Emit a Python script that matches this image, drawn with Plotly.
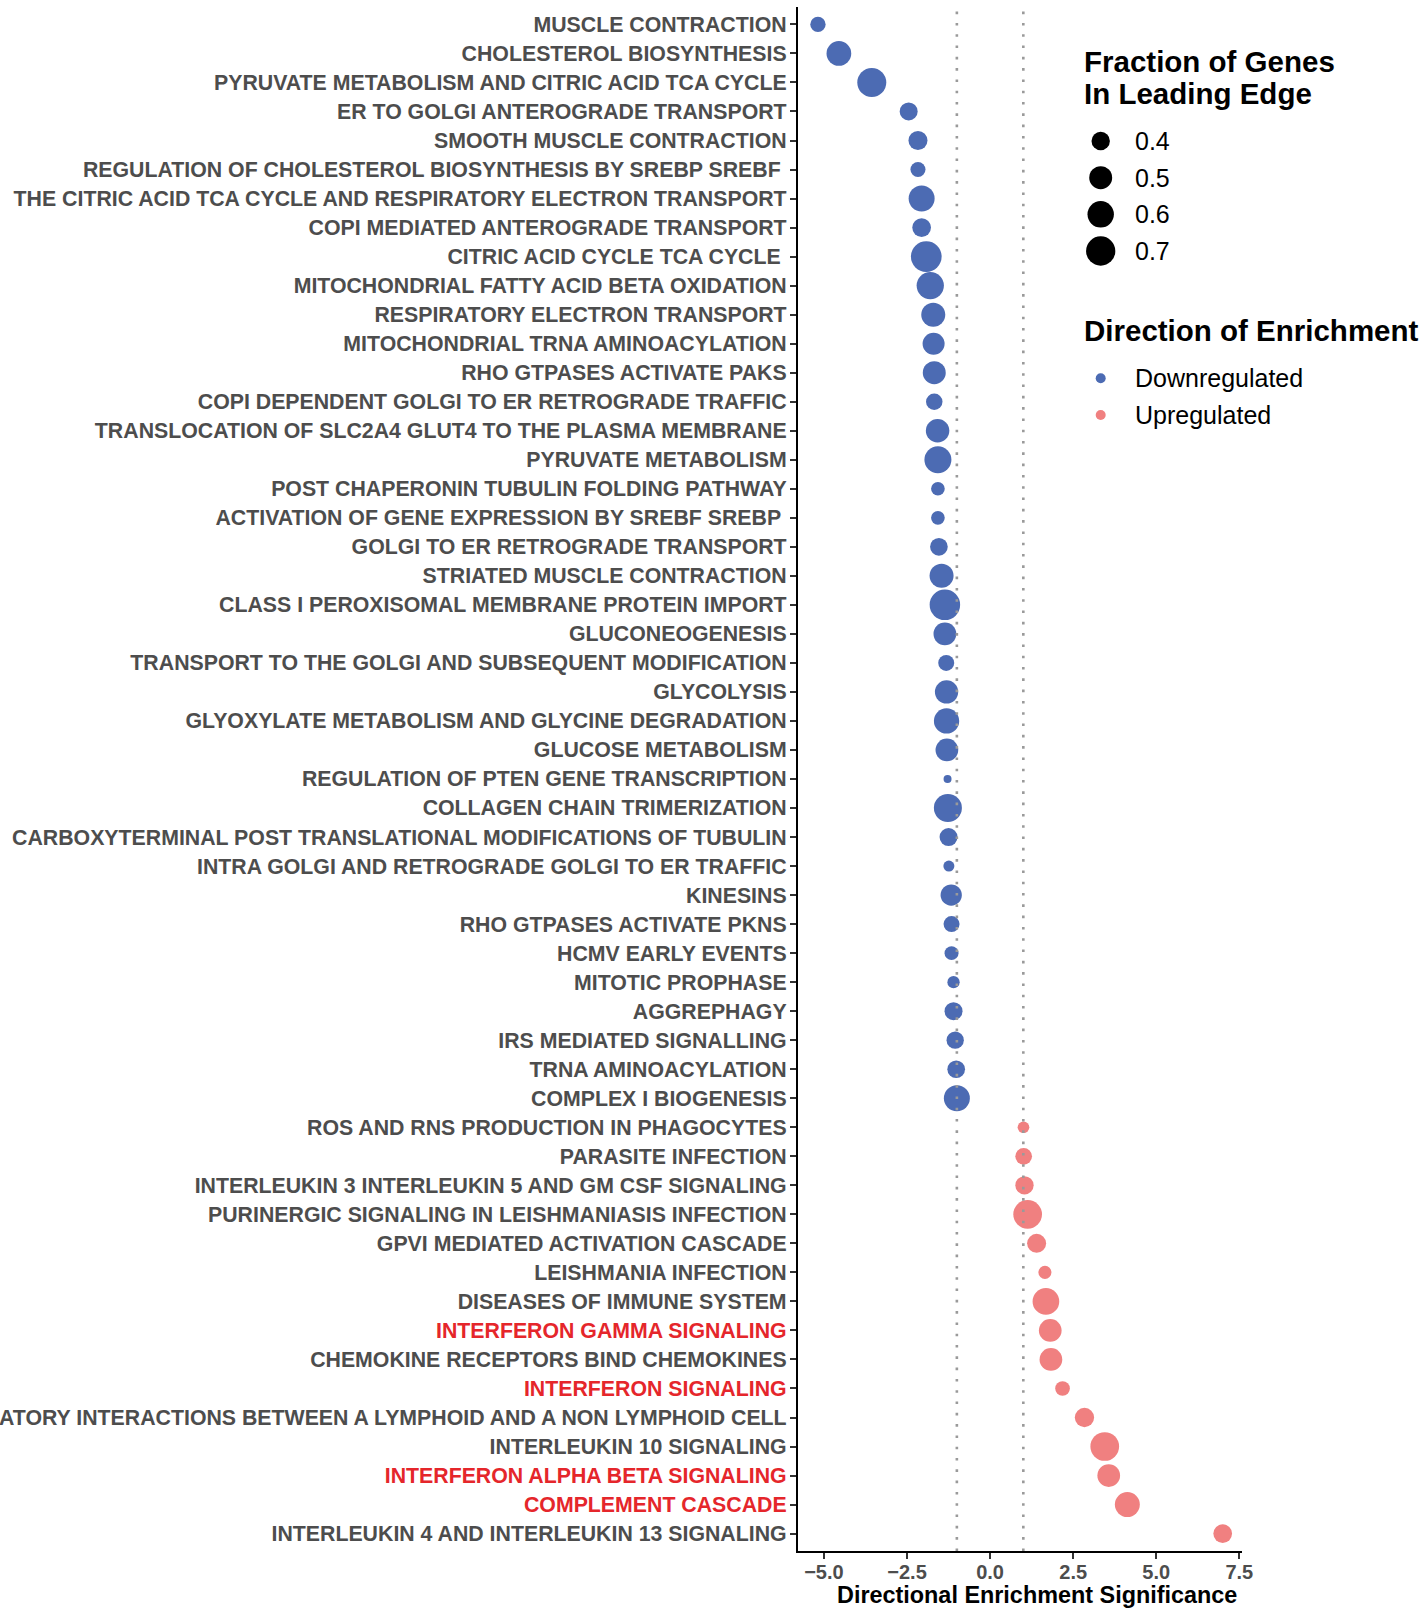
import numpy as np
import plotly.graph_objects as go

pathways = [
    "MUSCLE CONTRACTION",
    "CHOLESTEROL BIOSYNTHESIS",
    "PYRUVATE METABOLISM AND CITRIC ACID TCA CYCLE",
    "ER TO GOLGI ANTEROGRADE TRANSPORT",
    "SMOOTH MUSCLE CONTRACTION",
    "REGULATION OF CHOLESTEROL BIOSYNTHESIS BY SREBP SREBF ",
    "THE CITRIC ACID TCA CYCLE AND RESPIRATORY ELECTRON TRANSPORT",
    "COPI MEDIATED ANTEROGRADE TRANSPORT",
    "CITRIC ACID CYCLE TCA CYCLE ",
    "MITOCHONDRIAL FATTY ACID BETA OXIDATION",
    "RESPIRATORY ELECTRON TRANSPORT",
    "MITOCHONDRIAL TRNA AMINOACYLATION",
    "RHO GTPASES ACTIVATE PAKS",
    "COPI DEPENDENT GOLGI TO ER RETROGRADE TRAFFIC",
    "TRANSLOCATION OF SLC2A4 GLUT4 TO THE PLASMA MEMBRANE",
    "PYRUVATE METABOLISM",
    "POST CHAPERONIN TUBULIN FOLDING PATHWAY",
    "ACTIVATION OF GENE EXPRESSION BY SREBF SREBP ",
    "GOLGI TO ER RETROGRADE TRANSPORT",
    "STRIATED MUSCLE CONTRACTION",
    "CLASS I PEROXISOMAL MEMBRANE PROTEIN IMPORT",
    "GLUCONEOGENESIS",
    "TRANSPORT TO THE GOLGI AND SUBSEQUENT MODIFICATION",
    "GLYCOLYSIS",
    "GLYOXYLATE METABOLISM AND GLYCINE DEGRADATION",
    "GLUCOSE METABOLISM",
    "REGULATION OF PTEN GENE TRANSCRIPTION",
    "COLLAGEN CHAIN TRIMERIZATION",
    "CARBOXYTERMINAL POST TRANSLATIONAL MODIFICATIONS OF TUBULIN",
    "INTRA GOLGI AND RETROGRADE GOLGI TO ER TRAFFIC",
    "KINESINS",
    "RHO GTPASES ACTIVATE PKNS",
    "HCMV EARLY EVENTS",
    "MITOTIC PROPHASE",
    "AGGREPHAGY",
    "IRS MEDIATED SIGNALLING",
    "TRNA AMINOACYLATION",
    "COMPLEX I BIOGENESIS",
    "ROS AND RNS PRODUCTION IN PHAGOCYTES",
    "PARASITE INFECTION",
    "INTERLEUKIN 3 INTERLEUKIN 5 AND GM CSF SIGNALING",
    "PURINERGIC SIGNALING IN LEISHMANIASIS INFECTION",
    "GPVI MEDIATED ACTIVATION CASCADE",
    "LEISHMANIA INFECTION",
    "DISEASES OF IMMUNE SYSTEM",
    "INTERFERON GAMMA SIGNALING",
    "CHEMOKINE RECEPTORS BIND CHEMOKINES",
    "INTERFERON SIGNALING",
    "IMMUNOREGULATORY INTERACTIONS BETWEEN A LYMPHOID AND A NON LYMPHOID CELL",
    "INTERLEUKIN 10 SIGNALING",
    "INTERFERON ALPHA BETA SIGNALING",
    "COMPLEMENT CASCADE",
    "INTERLEUKIN 4 AND INTERLEUKIN 13 SIGNALING",
]

significance = [
    -5.18, -4.55, -3.56, -2.45, -2.17, -2.17, -2.06, -2.06, -1.92, -1.80,
    -1.71, -1.70, -1.68, -1.68, -1.58, -1.57, -1.57, -1.57, -1.54, -1.46,
    -1.36, -1.36, -1.32, -1.31, -1.31, -1.30, -1.28, -1.27, -1.25, -1.24,
    -1.17, -1.16, -1.16, -1.10, -1.10, -1.05, -1.02, -1.00,
    1.005, 1.01, 1.035, 1.13, 1.40, 1.65, 1.68, 1.81, 1.83, 2.18,
    2.84, 3.45, 3.57, 4.13, 7.00,
]

leading_edge_fraction = [
    0.352, 0.549, 0.690, 0.392, 0.411, 0.348, 0.588, 0.405, 0.755, 0.630,
    0.529, 0.476, 0.501, 0.368, 0.515, 0.620, 0.333, 0.333, 0.387, 0.529,
    0.747, 0.494, 0.361, 0.509, 0.566, 0.494, 0.305, 0.654, 0.392, 0.313,
    0.459, 0.361, 0.336, 0.321, 0.392, 0.381, 0.387, 0.588,
    0.317, 0.371, 0.398, 0.679, 0.411, 0.327, 0.610, 0.494, 0.494, 0.344,
    0.417, 0.679, 0.494, 0.557, 0.405,
]

highlighted = [
    "INTERFERON GAMMA SIGNALING",
    "INTERFERON SIGNALING",
    "INTERFERON ALPHA BETA SIGNALING",
    "COMPLEMENT CASCADE",
]

size_breaks = [0.4, 0.5, 0.6, 0.7]
directions = ["Downregulated", "Upregulated"]
x_ticks = [-5.0, -2.5, 0.0, 2.5, 5.0, 7.5]
thresholds = [-1.0, 1.0]

COLORS = {"Downregulated": "#4C6BB3", "Upregulated": "#F08080"}
FONT = "Liberation Sans, Arial, Helvetica, sans-serif"

# size scale (area scale, like ggplot scale_size)
D_MIN, D_MAX = 8.0, 30.7
f_lo, f_hi = min(leading_edge_fraction), max(leading_edge_fraction)


def size_px(f):
    f = np.asarray(f, dtype=float)
    return D_MIN + (D_MAX - D_MIN) * np.sqrt(np.clip((f - f_lo) / (f_hi - f_lo), 0, 1))


# figure geometry (pixels)
W, H = 1425, 1609
L, R, T, B = 798, 1242, 7, 1551
PW, PH = R - L, B - T


def px_x(px):
    return (px - L) / PW


def px_y(py):
    return (B - py) / PH


fig = go.Figure()

for d in directions:
    idx = [i for i, v in enumerate(significance) if (v < 0) == (d == "Downregulated")]
    fig.add_trace(go.Scatter(
        x=[significance[i] for i in idx],
        y=[pathways[i] for i in idx],
        mode="markers",
        marker=dict(color=COLORS[d], size=size_px([leading_edge_fraction[i] for i in idx]),
                    line=dict(width=0), opacity=1),
        name=d, showlegend=False,
    ))

# legend keys drawn on an overlay pixel axis
leg_x = 1100.7
size_key_y = [141, 177.7, 214.3, 251]
dir_key_y = [378.3, 415]
fig.add_trace(go.Scatter(
    x=[leg_x - L] * len(size_breaks), y=[py - T for py in size_key_y],
    xaxis="x2", yaxis="y2", mode="markers",
    marker=dict(color="#000000", size=size_px(size_breaks), line=dict(width=0), opacity=1),
    showlegend=False, hoverinfo="skip",
))
fig.add_trace(go.Scatter(
    x=[leg_x - L] * len(directions), y=[py - T for py in dir_key_y],
    xaxis="x2", yaxis="y2", mode="markers",
    marker=dict(color=[COLORS[d] for d in directions], size=10, line=dict(width=0), opacity=1),
    showlegend=False, hoverinfo="skip",
))

ticktext = []
for p in pathways:
    if p in highlighted:
        ticktext.append('<span style="color:#E5262B">' + p + '</span>')
    else:
        ticktext.append(p)

shapes = []
for t in thresholds:
    shapes.append(dict(type="line", xref="x", yref="paper", x0=t, x1=t, y0=0, y1=1,
                       line=dict(color="#9A9A9A", width=2.6, dash="2.6px,8.7px"), layer="above"))

annotations = []
annotations.append(dict(text="Directional Enrichment Significance", x=px_x(1036.5), y=px_y(1595),
                        xref="paper", yref="paper", showarrow=False, xanchor="center", yanchor="middle",
                        font=dict(family=FONT, size=23.4, color="black", weight="bold")))
annotations.append(dict(text="Fraction of Genes", x=px_x(1082), y=px_y(61),
                        xref="paper", yref="paper", showarrow=False, xanchor="left", yanchor="middle",
                        font=dict(family=FONT, size=29.5, color="black", weight="bold")))
annotations.append(dict(text="In Leading Edge", x=px_x(1082), y=px_y(94),
                        xref="paper", yref="paper", showarrow=False, xanchor="left", yanchor="middle",
                        font=dict(family=FONT, size=29.5, color="black", weight="bold")))
annotations.append(dict(text="Direction of Enrichment", x=px_x(1082), y=px_y(331),
                        xref="paper", yref="paper", showarrow=False, xanchor="left", yanchor="middle",
                        font=dict(family=FONT, size=29.5, color="black", weight="bold")))
for b, py in zip(size_breaks, size_key_y):
    annotations.append(dict(text=f"{b:.1f}", x=px_x(1133), y=px_y(py), xref="paper", yref="paper",
                            showarrow=False, xanchor="left", yanchor="middle",
                            font=dict(family=FONT, size=25, color="black")))
for d, py in zip(directions, dir_key_y):
    annotations.append(dict(text=d, x=px_x(1133), y=px_y(py), xref="paper", yref="paper",
                            showarrow=False, xanchor="left", yanchor="middle",
                            font=dict(family=FONT, size=25, color="black")))

fig.update_layout(
    width=W, height=H,
    margin=dict(l=L, r=W - R, t=T, b=H - B, pad=0, autoexpand=False),
    paper_bgcolor="white", plot_bgcolor="white",
    showlegend=False,
    xaxis=dict(range=[-5.78, 7.58], tickvals=x_ticks, tickformat=".1f",
               showgrid=False, zeroline=False, showline=True, linecolor="black", linewidth=2.2,
               ticks="outside", ticklen=6, tickwidth=2, tickcolor="#333333",
               ticklabelstandoff=-4,
               tickfont=dict(family=FONT, size=20, color="#4D4D4D", weight="bold"),
               automargin=False),
    yaxis=dict(type="category", categoryorder="array", categoryarray=pathways,
               tickvals=pathways, ticktext=ticktext,
               range=[len(pathways) - 0.4, -0.6],
               showgrid=False, zeroline=False, showline=True, linecolor="black", linewidth=2.2,
               ticks="outside", ticklen=6, tickwidth=2, tickcolor="#333333",
               ticklabelstandoff=-1,
               tickfont=dict(family=FONT, size=21.3, color="#4D4D4D", weight="bold"),
               automargin=False),
    xaxis2=dict(overlaying="x", range=[0, PW], visible=False, fixedrange=True),
    yaxis2=dict(overlaying="y", range=[PH, 0], visible=False, fixedrange=True),
    shapes=shapes,
    annotations=annotations,
)

fig.write_html(
    "out.html",
    config={"displayModeBar": False},
    post_script="document.body.style.margin='0';document.body.style.overflow='hidden';",
)
